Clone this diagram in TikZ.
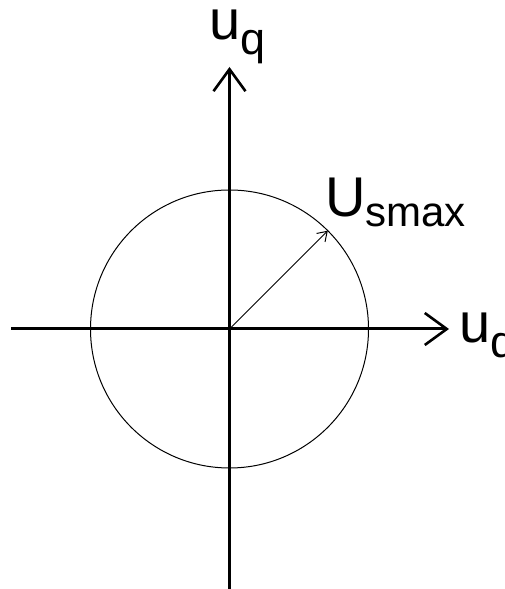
\documentclass[tikz,border=0pt]{standalone}
\usepackage{fontspec}
\setmainfont{Liberation Sans}
\usetikzlibrary{arrows.meta,calc}
\begin{document}
\begin{tikzpicture}[x=1pt,y=1pt,
  axis/.style={line width=3pt,-{Straight Barb[length=22pt,width=32pt,line width=2.6pt]}},
  thin line/.style={line width=1pt},
  lbl/.style={anchor=base west,inner sep=0pt,font=\fontsize{56}{60}\selectfont}]
\useasboundingbox (0,0) rectangle (505,589);
\clip (0,0) rectangle (505,589);
\coordinate (O) at (229.5,260);
\coordinate (xs) at (11,260);
\coordinate (xe) at (449,260);
\coordinate (ys) at (229.5,-2);
\coordinate (ye) at (229.5,522);
\coordinate (V) at ($(O)+(45:139)$);
\draw[thin line] (O) circle[radius=139];
\draw[axis] (xs) -- (xe);
\draw[axis] (ys) -- (ye);
\draw[thin line,-{Straight Barb[length=9pt,width=12pt]}] (O) -- (V);
\node[lbl] (uq) at (209,549) {u\raisebox{-15pt}{\fontsize{45}{45}\selectfont q}};
\node[lbl] (us) at (325,372) {U\raisebox{-10pt}{\fontsize{42}{42}\selectfont smax}};
\node[lbl] (ud) at (459,246) {u\raisebox{-15pt}{\fontsize{45}{45}\selectfont d}};
\end{tikzpicture}
\end{document}
